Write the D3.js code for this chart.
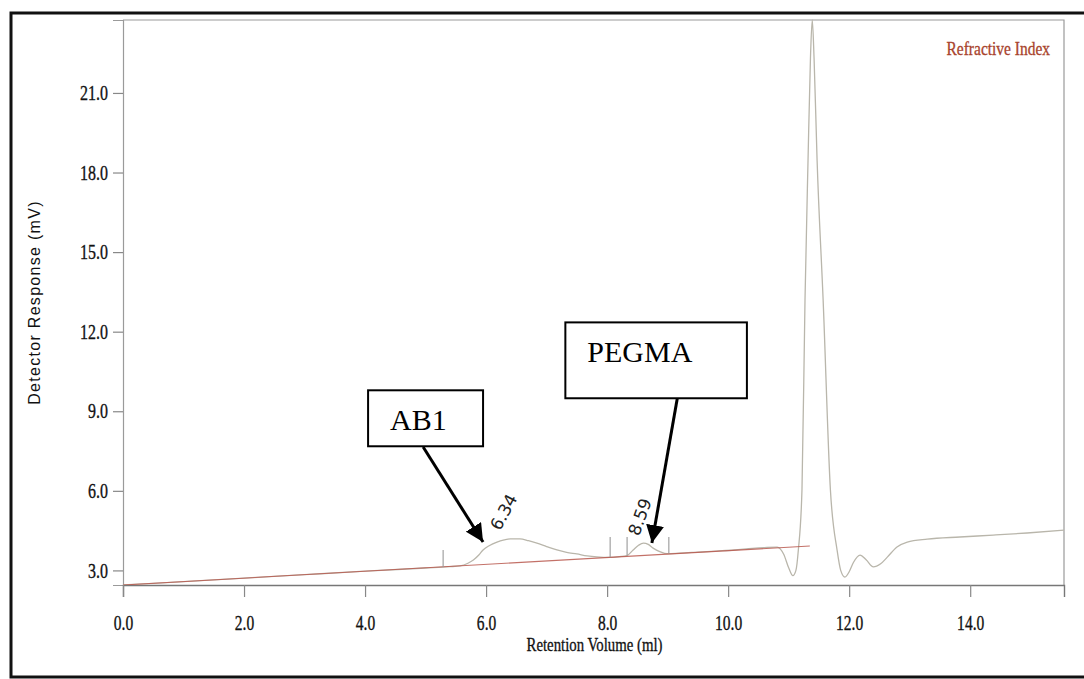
<!DOCTYPE html>
<html>
<head>
<meta charset="utf-8">
<script src="https://cdn.jsdelivr.net/npm/d3@7"></script>
<style>
  html, body { margin: 0; padding: 0; background: #fff; }
  svg { display: block; }
</style>
</head>
<body>
<svg id="chart" width="1084" height="679"></svg>
<script>
// ---------------- DATA ----------------
const retentionVolume = [0.00,1.00,2.00,3.00,4.00,5.00,5.40,5.57,5.70,5.79,5.88,5.95,6.05,6.18,6.30,6.40,6.56,6.70,6.84,7.00,7.17,7.33,7.50,7.67,7.83,8.05,8.20,8.33,8.43,8.52,8.60,8.68,8.76,8.88,8.99,9.20,9.50,9.80,10.10,10.40,10.60,10.81,10.92,11.00,11.07,11.12,11.16,11.22,11.27,11.32,11.36,11.39,11.42,11.47,11.57,11.69,11.80,11.86,11.93,12.00,12.07,12.18,12.28,12.40,12.52,12.63,12.79,12.96,13.29,13.83,14.38,14.94,15.55];
const detectorResponse = [2.45,2.58,2.71,2.84,2.97,3.09,3.14,3.17,3.27,3.39,3.58,3.77,3.93,4.07,4.15,4.19,4.19,4.12,4.03,3.90,3.77,3.68,3.62,3.55,3.51,3.49,3.52,3.56,3.77,3.95,4.03,3.98,3.84,3.70,3.63,3.65,3.69,3.73,3.77,3.83,3.86,3.88,3.60,3.10,2.80,3.00,3.77,6.03,13.18,18.45,22.30,23.75,22.30,18.45,13.18,6.03,3.77,3.00,2.75,2.95,3.30,3.58,3.40,3.13,3.25,3.50,3.88,4.07,4.18,4.26,4.33,4.41,4.52];

const baselineVolume = [0.00, 11.35];
const baselineResponse = [2.45, 3.92];

const markerVolume = [5.29, 8.05, 8.33, 9.02];
const markerLow = [3.13, 3.50, 3.56, 3.65];
const markerHigh = [3.77, 4.26, 4.26, 4.26];

const xTicks = [0, 2, 4, 6, 8, 10, 12, 14];
const yTicks = [3, 6, 9, 12, 15, 18, 21];

const peakLabels = ["6.34", "8.59"];
const peakLabelX = [6.34, 8.59];
const peakLabelY = [5.20, 5.02];
const peakLabelAngle = [-62, -70];

const boxLabels = ["AB1", "PEGMA"];
const boxX0 = [4.05, 7.31];
const boxX1 = [5.95, 10.31];
const boxY0 = [9.79, 12.35];
const boxY1 = [7.68, 9.49];
const arrowFromX = [4.96, 9.16];
const arrowFromY = [7.65, 9.49];
const arrowToX = [5.95, 8.74];
const arrowToY = [4.07, 4.03];

const xTitle = "Retention Volume (ml)";
const yTitle = "Detector Response (mV)";
const legendText = "Refractive Index";

// ---------------- LAYOUT ----------------
const svg = d3.select("#chart");
const plot = { left: 123, right: 1064, top: 20, bottom: 585 };

const x = d3.scaleLinear().domain([0, 15.55]).range([plot.left, plot.right]);
const y = d3.scaleLinear().domain([2.45, 23.75]).range([plot.bottom, plot.top]);

// outer frame
svg.append("rect")
  .attr("x", 11).attr("y", 13).attr("width", 1100).attr("height", 664)
  .attr("fill", "none").attr("stroke", "#111").attr("stroke-width", 3);

// defs
const defs = svg.append("defs");
defs.append("clipPath").attr("id", "plotclip")
  .append("rect").attr("x", plot.left).attr("y", plot.top - 1)
  .attr("width", plot.right - plot.left).attr("height", plot.bottom - plot.top + 1);
defs.append("marker")
  .attr("id", "arrowhead").attr("viewBox", "0 0 10 10")
  .attr("refX", 10).attr("refY", 5)
  .attr("markerWidth", 6).attr("markerHeight", 6)
  .attr("markerUnits", "strokeWidth")
  .attr("orient", "auto")
  .append("path").attr("d", "M0,0 L10,5 L0,10 z").attr("fill", "#000");

// plot frame (top & right)
svg.append("path")
  .attr("d", `M${plot.left},${plot.top} H${plot.right} V${plot.bottom}`)
  .attr("fill", "none").attr("stroke", "#9a9a9a").attr("stroke-width", 1.2);

// axes
const tickFont = "'Liberation Serif', 'Times New Roman', serif";
const yAxis = svg.append("g")
  .attr("transform", `translate(${plot.left},0)`)
  .call(d3.axisLeft(y).tickValues(yTicks).tickFormat(d3.format(".1f")).tickSize(10).tickPadding(5));
yAxis.select(".domain").attr("stroke", "#9a9a9a").attr("stroke-width", 1.2);
yAxis.selectAll(".tick line").attr("stroke", "#888").attr("stroke-width", 1.2);
yAxis.selectAll(".tick text")
  .attr("font-family", tickFont).attr("font-size", 21).attr("fill", "#111")
  .attr("stroke", "#111").attr("stroke-width", 0.35)
  .attr("transform", "scale(0.76,1)").attr("x", -15 / 0.76);

const xAxis = svg.append("g")
  .attr("transform", `translate(0,${plot.bottom})`)
  .call(d3.axisBottom(x).tickValues(xTicks).tickFormat(d3.format(".1f")).tickSize(12).tickPadding(18));
xAxis.select(".domain").attr("stroke", "#777").attr("stroke-width", 1.4);
xAxis.selectAll(".tick line").attr("stroke", "#888").attr("stroke-width", 1.2);
xAxis.selectAll(".tick text")
  .attr("font-family", tickFont).attr("font-size", 21).attr("fill", "#111")
  .attr("stroke", "#111").attr("stroke-width", 0.35)
  .attr("transform", "scale(0.74,1)");

// axis titles
svg.append("text")
  .attr("transform", `translate(${(plot.left + plot.right) / 2 + 1},651) scale(0.78,1)`)
  .attr("text-anchor", "middle")
  .attr("font-family", tickFont).attr("font-size", 19).attr("fill", "#111")
  .attr("stroke", "#111").attr("stroke-width", 0.3)
  .text(xTitle);

svg.append("text")
  .attr("transform", `translate(40,${(plot.top + plot.bottom) / 2}) rotate(-90)`)
  .attr("text-anchor", "middle")
  .attr("font-family", "'Liberation Sans', Arial, sans-serif")
  .attr("font-size", 16).attr("letter-spacing", 1.3).attr("fill", "#111")
  .text(yTitle);

// legend
svg.append("text")
  .attr("transform", `translate(1050,55) scale(0.86,1)`)
  .attr("text-anchor", "end")
  .attr("font-family", tickFont).attr("font-size", 18).attr("fill", "#a8432c")
  .attr("stroke", "#a8432c").attr("stroke-width", 0.3)
  .text(legendText);

// curves
const g = svg.append("g").attr("clip-path", "url(#plotclip)");

const signal = retentionVolume.map((v, i) => [v, detectorResponse[i]]);
const baseline = baselineVolume.map((v, i) => [v, baselineResponse[i]]);

g.append("path")
  .datum(signal)
  .attr("d", d3.line().x(d => x(d[0])).y(d => y(d[1])).curve(d3.curveMonotoneX))
  .attr("fill", "none").attr("stroke", "#b9b6ab").attr("stroke-width", 1.3);

g.append("path")
  .datum(baseline)
  .attr("d", d3.line().x(d => x(d[0])).y(d => y(d[1])))
  .attr("fill", "none").attr("stroke", "#b8584e").attr("stroke-width", 1.1).attr("opacity", 0.85);

// integration markers
g.selectAll("line.marker")
  .data(markerVolume)
  .join("line").attr("class", "marker")
  .attr("x1", d => x(d)).attr("x2", d => x(d))
  .attr("y1", (d, i) => y(markerLow[i])).attr("y2", (d, i) => y(markerHigh[i]))
  .attr("stroke", "#999").attr("stroke-width", 1.1);

// peak labels
svg.selectAll("text.peak")
  .data(peakLabels)
  .join("text").attr("class", "peak")
  .attr("transform", (d, i) => `translate(${x(peakLabelX[i]) - 3},${y(peakLabelY[i])}) rotate(${peakLabelAngle[i]})`)
  .attr("text-anchor", "middle").attr("dominant-baseline", "central")
  .attr("font-family", "'DejaVu Sans', sans-serif").attr("font-size", 17).attr("fill", "#222")
  .text(d => d);

// annotation boxes
const boxes = svg.selectAll("g.box")
  .data(boxLabels)
  .join("g").attr("class", "box");
boxes.append("rect")
  .attr("x", (d, i) => x(boxX0[i])).attr("y", (d, i) => y(boxY0[i]))
  .attr("width", (d, i) => x(boxX1[i]) - x(boxX0[i]))
  .attr("height", (d, i) => y(boxY1[i]) - y(boxY0[i]))
  .attr("fill", "#fff").attr("stroke", "#000").attr("stroke-width", 2);
boxes.append("text")
  .attr("x", (d, i) => x(boxX0[i]) + 22)
  .attr("y", (d, i) => y(boxY0[i]) + 40)
  .attr("font-family", tickFont).attr("font-size", 30).attr("fill", "#000")
  .text(d => d);

// arrows
svg.selectAll("line.arrow")
  .data(boxLabels)
  .join("line").attr("class", "arrow")
  .attr("x1", (d, i) => x(arrowFromX[i])).attr("y1", (d, i) => y(arrowFromY[i]))
  .attr("x2", (d, i) => x(arrowToX[i])).attr("y2", (d, i) => y(arrowToY[i]))
  .attr("stroke", "#000").attr("stroke-width", 3)
  .attr("marker-end", "url(#arrowhead)");
</script>
</body>
</html>
